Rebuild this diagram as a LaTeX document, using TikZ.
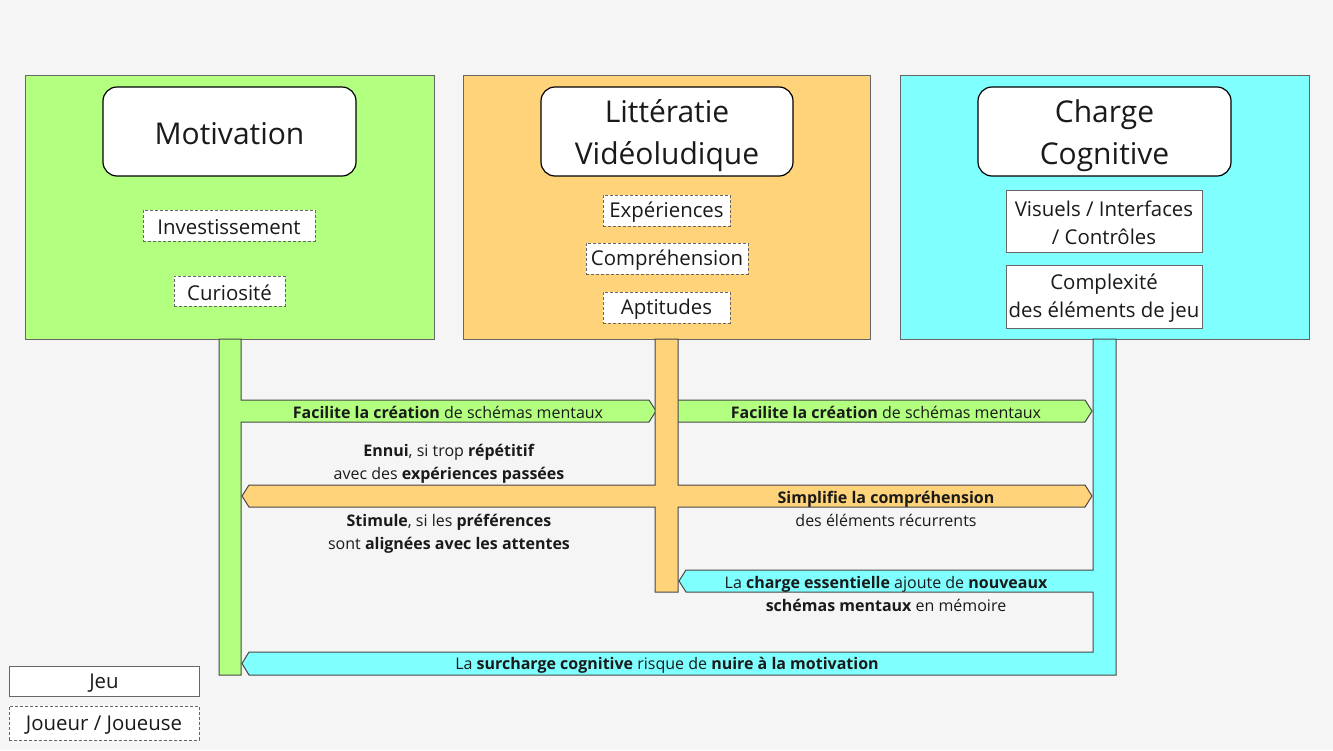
\documentclass[tikz,border=0pt]{standalone}
\usepackage{fontspec}
\setmainfont{Open Sans}
\definecolor{bgc}{HTML}{F5F5F5}
\definecolor{grn}{HTML}{B3FF80}
\definecolor{org}{HTML}{FFD37A}
\definecolor{cyn}{HTML}{80FFFF}
\definecolor{edge}{HTML}{666666}
\definecolor{txt}{HTML}{1A1A1A}
\tikzset{
  panel/.style={draw=edge, line width=1pt, inner sep=0pt},
  titlebox/.style={draw=black, fill=white, rounded corners=14pt, line width=1.2pt, inner sep=0pt},
  titletxt/.style={font=\fontsize{30}{42}\selectfont, align=center, text=txt, inner sep=0pt},
  dbox/.style={draw=edge, dash pattern=on 3pt off 2pt, line width=1pt, fill=white, inner sep=0pt},
  sbox/.style={draw=edge, line width=1pt, fill=white, inner sep=0pt},
  btxt/.style={font=\fontsize{20.4}{28}\selectfont, align=center, text=txt, inner sep=0pt},
  lbl/.style={font=\fontsize{16}{23}\selectfont, align=center, text=txt, inner sep=0pt},
  flow/.style={draw=edge!70!black, line width=1pt, line join=miter},
}
\begin{document}
\begin{tikzpicture}[x=1pt,y=-1pt]
\fill[bgc] (0,0) rectangle (1333,750);
\useasboundingbox (0,0) rectangle (1333,750);

% panels
\node[panel, fill=grn, minimum width=409pt, minimum height=264pt] (mot) at (229.5,207) {};
\node[panel, fill=org, minimum width=407pt, minimum height=264pt] (lit) at (666.5,207) {};
\node[panel, fill=cyn, minimum width=409pt, minimum height=264pt] (cha) at (1104.5,207) {};

% flows
\draw[flow, fill=grn] (667,400) -- (1085,400) -- (1092,411) -- (1085,422) -- (667,422) -- cycle;
\draw[flow, fill=grn] (219,339) -- (219,675) -- (241,675) -- (241,422) -- (649,422) -- (656,411)
  -- (649,400) -- (241,400) -- (241,339) -- cycle;
\draw[flow, fill=org] (655,339) -- (655,485) -- (249,485) -- (242,496) -- (249,507) -- (655,507)
  -- (655,592) -- (678,592) -- (678,507) -- (1085,507) -- (1092,496) -- (1085,485) -- (678,485)
  -- (678,339) -- cycle;
\draw[flow, fill=cyn] (1093,339) -- (1093,570) -- (686,570) -- (679,581) -- (686,592) -- (1093,592)
  -- (1093,652) -- (249,652) -- (242,663.5) -- (249,675) -- (1116,675) -- (1116,339) -- cycle;

% labels
\node[lbl] (f1) at (448,412) {\textbf{Facilite la création} de schémas mentaux};
\node[lbl] (f2) at (886,412) {\textbf{Facilite la création} de schémas mentaux};
\node[lbl] (ennui) at (449,463.5) {\textbf{Ennui}, si trop \textbf{répétitif}\\avec des \textbf{expériences passées}};
\node[lbl] (simp) at (886,508.5) {\textbf{Simplifie la compréhension}\\des éléments récurrents};
\node[lbl] (stim) at (449,533.5) {\textbf{Stimule}, si les \textbf{préférences}\\sont \textbf{alignées avec les attentes}};
\node[lbl] (ess) at (886,594) {La \textbf{charge essentielle} ajoute de \textbf{nouveaux}\\\textbf{schémas mentaux} en mémoire};
\node[lbl] (sur) at (667,665) {La \textbf{surcharge cognitive} risque de \textbf{nuire à la motivation}};

% titles
\node[titlebox, minimum width=253pt, minimum height=89pt] (tmot) at (229.5,131.5) {};
\node[titletxt] (tmott) at ([yshift=-2pt]tmot.center) {Motivation};
\node[titlebox, minimum width=252pt, minimum height=89pt] (tlit) at (667,131.5) {};
\node[titletxt] (tlitt) at ([yshift=-4pt]tlit.center) {Littératie\\Vidéoludique};
\node[titlebox, minimum width=253pt, minimum height=89pt] (tcha) at (1104.5,131.5) {};
\node[titletxt] (tchat) at ([yshift=-4pt]tcha.center) {Charge\\Cognitive};

% player boxes
\node[dbox, minimum width=172pt, minimum height=31pt] (inv) at (229,225.5) {};
\node[btxt] at ([yshift=-2pt]inv.center) {Investissement};
\node[dbox, minimum width=111pt, minimum height=30pt] (cur) at (229.5,291) {};
\node[btxt] at ([yshift=-2pt]cur.center) {Curiosité};
\node[dbox, minimum width=127pt, minimum height=31pt] (exp) at (666.5,210.5) {};
\node[btxt] at ([yshift=-2pt]exp.center) {Expériences};
\node[dbox, minimum width=162pt, minimum height=31pt] (comp) at (667,258.5) {};
\node[btxt] at ([yshift=-2pt]comp.center) {Compréhension};
\node[dbox, minimum width=127pt, minimum height=31pt] (apt) at (666.5,307.5) {};
\node[btxt] at ([yshift=-2pt]apt.center) {Aptitudes};

% game boxes
\node[sbox, minimum width=196pt, minimum height=62pt] (vis) at (1104,221) {};
\node[btxt] at ([yshift=-1.5pt]vis.center) {Visuels / Interfaces\\/ Contrôles};
\node[sbox, minimum width=196pt, minimum height=63pt] (cplx) at (1104,296.5) {};
\node[btxt] at ([yshift=-1.5pt]cplx.center) {Complexité\\des éléments de jeu};

% legend
\node[sbox, minimum width=190pt, minimum height=30pt] (ljeu) at (104,681) {};
\node[btxt] at ([yshift=-2.5pt]ljeu.center) {Jeu};
\node[dbox, minimum width=190pt, minimum height=34pt] (ljou) at (104,723) {};
\node[btxt] at ([yshift=-2pt]ljou.center) {Joueur / Joueuse};
\end{tikzpicture}
\end{document}
